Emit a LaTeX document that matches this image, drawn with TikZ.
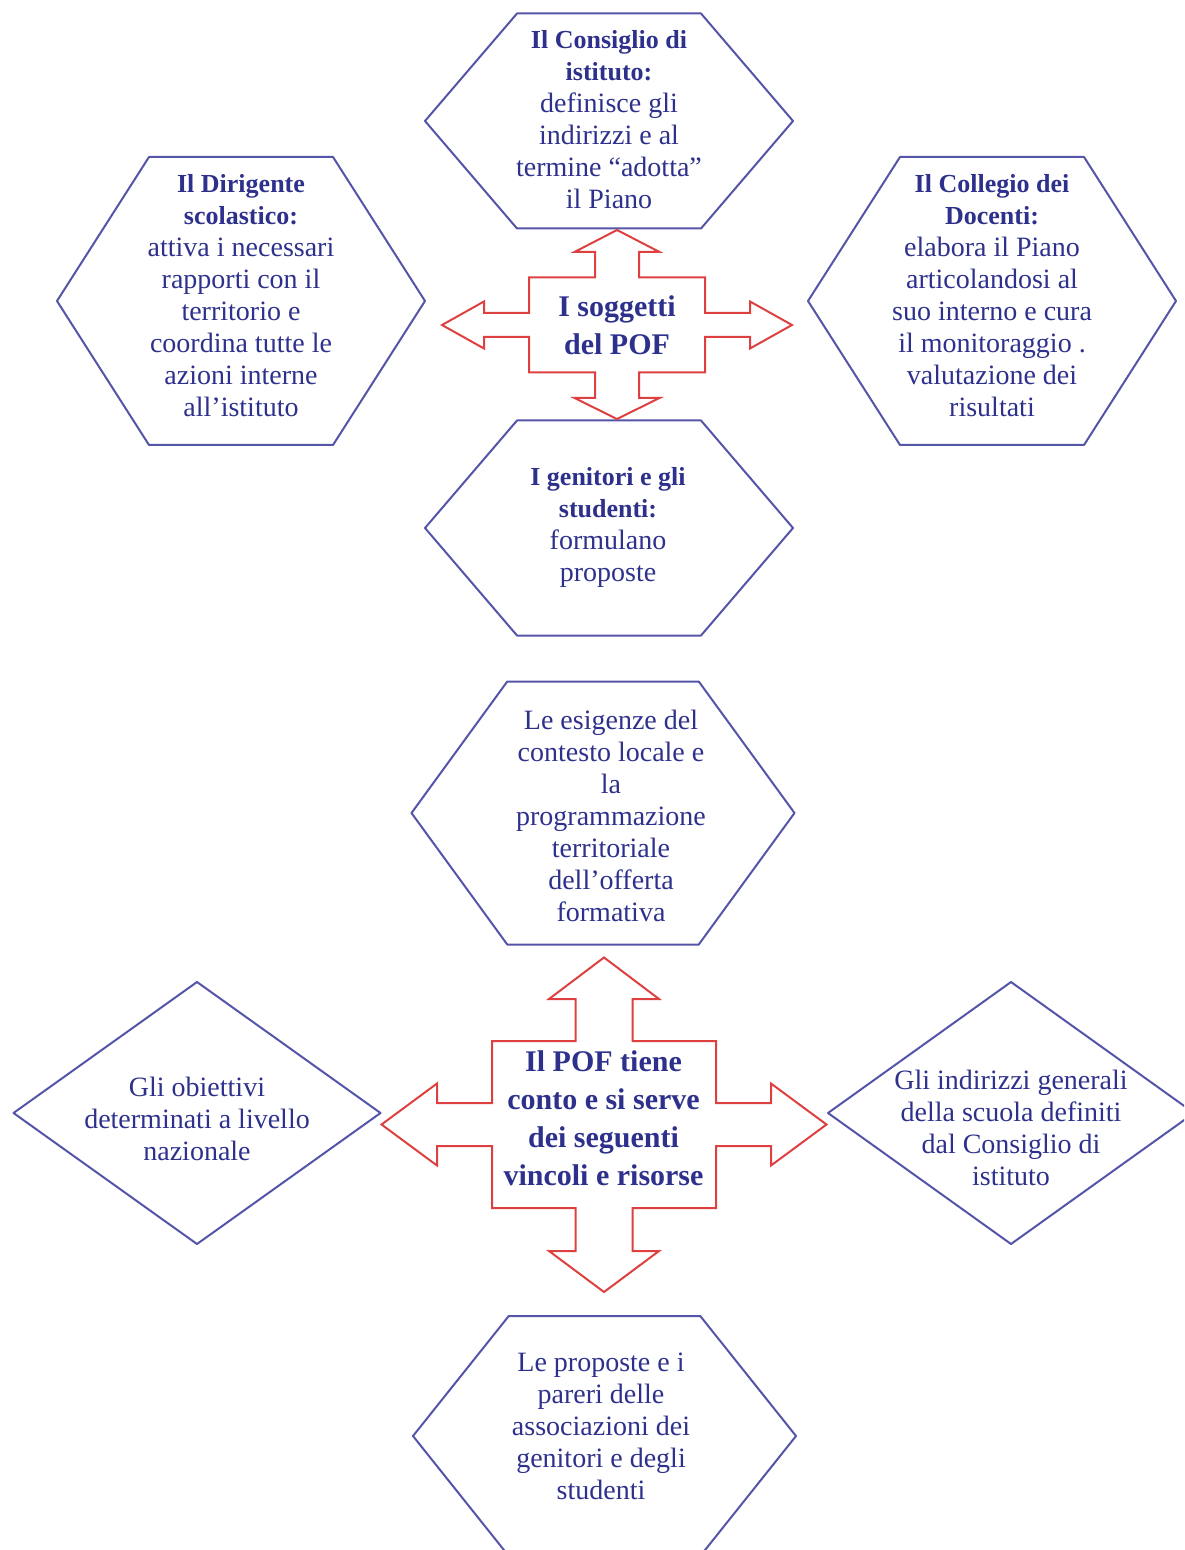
\documentclass[tikz,border=0pt]{standalone}
\usepackage{fontspec}
\setmainfont{Liberation Serif}
\usetikzlibrary{positioning}
\definecolor{hexblue}{RGB}{84,84,168}
\definecolor{textblue}{RGB}{46,49,140}
\definecolor{arrowred}{RGB}{222,64,64}
\tikzset{
  hexline/.style={draw=hexblue, line width=1pt, line join=round},
  crossline/.style={draw=arrowred, line width=1pt},
  txt/.style={text=textblue, align=center, inner sep=0pt, font=\fontsize{14}{16}\selectfont},
  title/.style={text=textblue, align=center, inner sep=0pt, font=\fontsize{15}{19}\selectfont\bfseries}
}
% stretched hexagon: centre x, centre y, width, height
\newcommand{\hexa}[4]{\draw[hexline] (#1-#3/2,#2) -- (#1-#3/4,#2-#4/2) -- (#1+#3/4,#2-#4/2) -- (#1+#3/2,#2) -- (#1+#3/4,#2+#4/2) -- (#1-#3/4,#2+#4/2) -- cycle;}
% diamond: centre x, centre y, width, height
\newcommand{\rombo}[4]{\draw[hexline] (#1-#3/2,#2) -- (#1,#2-#4/2) -- (#1+#3/2,#2) -- (#1,#2+#4/2) -- cycle;}
\newcommand{\hd}[1]{{\fontsize{13}{16}\selectfont\bfseries #1}}

\begin{document}
\begin{tikzpicture}[x=0.5pt, y=-0.5pt]
\clip (0,0) rectangle (1184,1550);

% i soggetti del POF
\hexa{609}{121}{368}{215}
\hexa{241}{301}{368}{288}
\hexa{992}{301}{368}{288}
\hexa{609}{528}{368}{215}
\node[txt] (cons) at (609,120) {\hd{Il Consiglio di}\\\hd{istituto:}\\definisce gli\\indirizzi e al\\termine “adotta”\\il Piano};
\node[txt] (dirig) at (241,296) {\hd{Il Dirigente}\\\hd{scolastico:}\\attiva i necessari\\rapporti con il\\territorio e\\coordina tutte le\\azioni interne\\all’istituto};
\node[txt] (colleg) at (992,296) {\hd{Il Collegio dei}\\\hd{Docenti:}\\elabora il Piano\\articolandosi al\\suo interno e cura\\il monitoraggio .\\valutazione dei\\risultati};
\node[txt] (genit) at (608,527) {\hd{I genitori e gli}\\\hd{studenti:}\\formulano\\proposte};

\begin{scope}[shift={(617,325)}]
\draw[crossline] (0,-95) -- (42.5,-73) -- (22,-73) -- (22,-47.5) -- (88,-47.5) -- (88,-12) -- (133,-12) -- (133,-23.5) -- (175,0) -- (133,23.5) -- (133,12) -- (88,12) -- (88,47.5) -- (22,47.5) -- (22,73) -- (42.5,73) -- (0,94) -- (-42.5,73) -- (-22,73) -- (-22,47.5) -- (-88,47.5) -- (-88,12) -- (-133,12) -- (-133,23.5) -- (-175,0) -- (-133,-23.5) -- (-133,-12) -- (-88,-12) -- (-88,-47.5) -- (-22,-47.5) -- (-22,-73) -- (-42.5,-73) -- cycle;
\end{scope}
\node[title] (sogg) at (617,325) {I soggetti\\del POF};

% vincoli e risorse
\hexa{603}{813}{383}{263}
\hexa{604.5}{1436}{383}{240}
\rombo{197}{1113}{367}{262}
\rombo{1011}{1113}{366}{262}
\node[txt] (esig) at (611,816) {Le esigenze del\\contesto locale e\\la\\programmazione\\territoriale\\dell’offerta\\formativa};
\node[txt] (obiett) at (197,1119) {Gli obiettivi\\determinati a livello\\nazionale};
\node[txt] (indir) at (1011,1128) {Gli indirizzi generali\\della scuola definiti\\dal Consiglio di\\istituto};
\node[txt] (propos) at (601,1426) {Le proposte e i\\pareri delle\\associazioni dei\\genitori e degli\\studenti};

\begin{scope}[shift={(604,1124.5)}]
\draw[crossline] (0,-167) -- (55,-125.5) -- (28.5,-125.5) -- (28.5,-83.5) -- (112,-83.5) -- (112,-21.5) -- (167,-21.5) -- (167,-41) -- (222.5,0) -- (167,41) -- (167,21.5) -- (112,21.5) -- (112,83.5) -- (28.5,83.5) -- (28.5,126.5) -- (55,126.5) -- (0,167.5) -- (-55,126.5) -- (-28.5,126.5) -- (-28.5,83.5) -- (-112,83.5) -- (-112,21.5) -- (-167,21.5) -- (-167,41) -- (-222.5,0) -- (-167,-41) -- (-167,-21.5) -- (-112,-21.5) -- (-112,-83.5) -- (-28.5,-83.5) -- (-28.5,-125.5) -- (-55,-125.5) -- cycle;
\end{scope}
\node[title] (pof) at (603.5,1118) {Il POF tiene\\conto e si serve\\dei seguenti\\vincoli e risorse};
\end{tikzpicture}
\end{document}
